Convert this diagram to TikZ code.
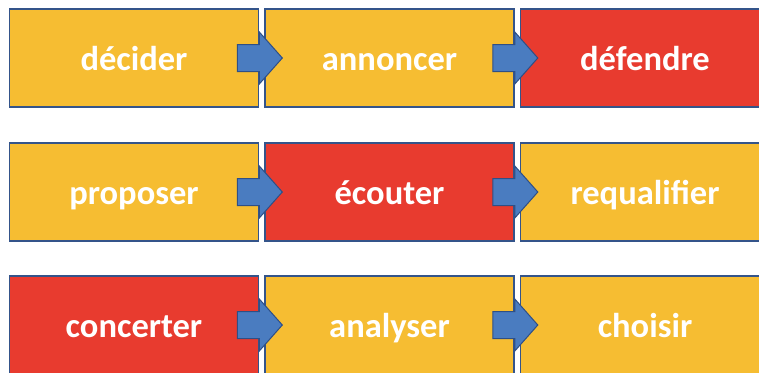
\documentclass[tikz,border=0pt]{standalone}
\usepackage{fontspec}
\setmainfont{Carlito}
\usetikzlibrary{calc}
\definecolor{ylw}{HTML}{F6BD32}
\definecolor{rd}{HTML}{E83B2F}
\definecolor{bord}{HTML}{34548A}
\definecolor{arrfill}{HTML}{4A7CC0}
\definecolor{arrline}{HTML}{2E4F86}
\tikzset{
  box/.style={draw=bord, line width=1.6pt, minimum width=249pt, minimum height=98pt,
    inner sep=0pt, text height=28pt, text depth=4pt, text=white,
    font=\fontsize{34.5}{40}\selectfont\bfseries},
  yb/.style={box, fill=ylw},
  rb/.style={box, fill=rd},
  blockarrow/.style={fill=arrfill, draw=arrline, line width=1pt, line join=miter}
}
\newcommand{\blockarr}[1]{%
  \draw[blockarrow] ($(#1.east)+(-22pt,13.5pt)$) -- ($(#1.east)+(0pt,13.5pt)$)
    -- ($(#1.east)+(0pt,26pt)$) -- ($(#1.east)+(23pt,0pt)$)
    -- ($(#1.east)+(0pt,-26pt)$) -- ($(#1.east)+(0pt,-13.5pt)$)
    -- ($(#1.east)+(-22pt,-13.5pt)$) -- cycle;}
\begin{document}
\begin{tikzpicture}[x=1pt,y=-1pt]
\useasboundingbox (0,0) rectangle (759,372);
\clip (0,0) rectangle (759,372);
\fill[white] (0,0) rectangle (759,372);
% row 1
\node[yb] (a1) at (134,58) {décider};
\node[yb] (a2) at (389.5,58) {annoncer};
\node[rb] (a3) at (645,58) {défendre};
% row 2
\node[yb] (b1) at (134,192) {proposer};
\node[rb] (b2) at (389.5,192) {écouter};
\node[yb] (b3) at (645,192) {requalifier};
% row 3
\node[rb] (c1) at (134,325) {concerter};
\node[yb] (c2) at (389.5,325) {analyser};
\node[yb] (c3) at (645,325) {choisir};
\blockarr{a1}\blockarr{a2}
\blockarr{b1}\blockarr{b2}
\blockarr{c1}\blockarr{c2}
\end{tikzpicture}
\end{document}
